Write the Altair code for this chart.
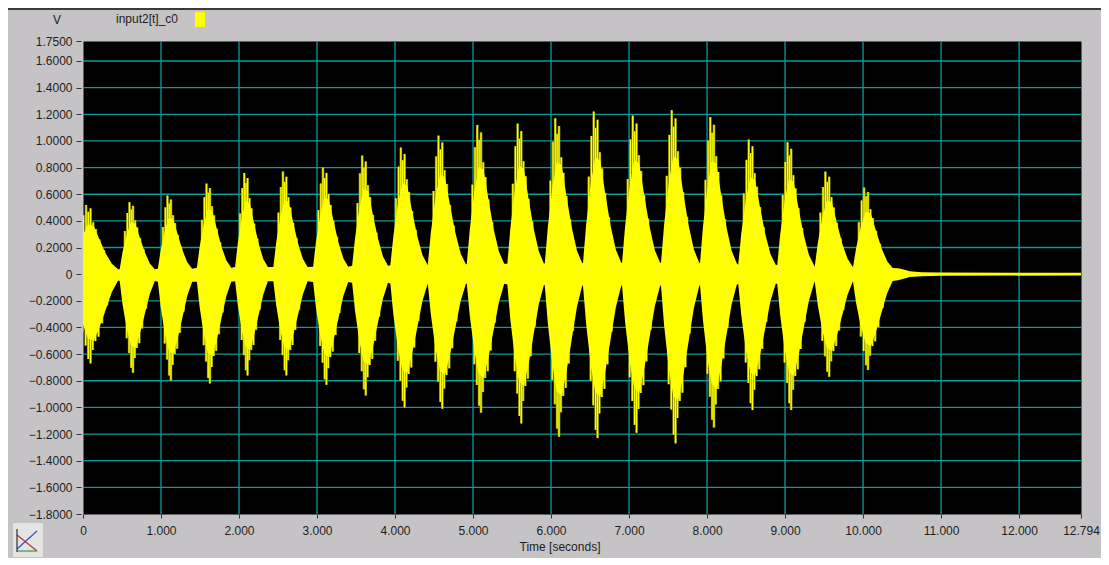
import altair as alt
import pandas as pd

# ---------------- data ----------------
x_ticks = [0, 1, 2, 3, 4, 5, 6, 7, 8, 9, 10, 11, 12, 12.794]
y_ticks = [1.75, 1.6, 1.4, 1.2, 1.0, 0.8, 0.6, 0.4, 0.2, 0, -0.2, -0.4, -0.6,
           -0.8, -1.0, -1.2, -1.4, -1.6, -1.8]
grid_x = [1, 2, 3, 4, 5, 6, 7, 8, 9, 10, 11, 12]
grid_y = [1.6, 1.4, 1.2, 1.0, 0.8, 0.6, 0.4, 0.2, 0, -0.2, -0.4, -0.6, -0.8,
          -1.0, -1.2, -1.4, -1.6]

# bursts (seconds) and their extreme spike values (V)
burst_start = [-0.12, 0.47, 0.96, 1.46, 1.95, 2.44, 2.95, 3.45, 3.94, 4.42, 4.92,
               5.44, 5.92, 6.41, 6.91, 7.41, 7.91, 8.40, 8.90, 9.38, 9.87]
burst_end = [0.45, 0.92, 1.40, 1.90, 2.37, 2.88, 3.40, 3.91, 4.42, 4.91, 5.40,
             5.91, 6.40, 6.90, 7.40, 7.90, 8.38, 8.88, 9.37, 9.87, 10.38]
spike_top = [0.52, 0.54, 0.59, 0.68, 0.76, 0.77, 0.80, 0.89, 0.95, 1.04, 1.12,
             1.13, 1.17, 1.22, 1.19, 1.23, 1.18, 1.01, 0.99, 0.77, 0.65]
spike_bot = [-0.67, -0.74, -0.80, -0.82, -0.76, -0.76, -0.83, -0.91, -1.00, -1.01,
             -1.04, -1.12, -1.22, -1.23, -1.19, -1.27, -1.15, -1.02, -1.02, -0.77, -0.72]

# typical shape of one burst (fraction of burst length,
# fraction of the burst's extreme value)
env_frac = [0.0, 0.08, 0.20, 0.32, 0.45, 0.58, 0.72, 0.86, 1.0]
env_top = [0.07, 0.30, 0.55, 0.72, 0.70, 0.50, 0.30, 0.15, 0.07]
env_bot = [0.07, 0.30, 0.55, 0.72, 0.75, 0.60, 0.40, 0.20, 0.07]
spk_top_frac = [0.15, 0.22, 0.28, 0.33, 0.38, 0.44, 0.50, 0.58, 0.68]
spk_top_rel = [0.60, 0.85, 1.00, 0.90, 0.95, 0.75, 0.65, 0.50, 0.35]
spk_bot_frac = [0.20, 0.27, 0.33, 0.38, 0.43, 0.49, 0.56, 0.64, 0.75]
spk_bot_rel = [0.65, 0.80, 0.95, 1.00, 0.85, 0.75, 0.70, 0.55, 0.35]

# decaying tail after the last burst
tail_t = [10.45, 10.52, 10.60, 10.75, 11.0, 12.794]
tail_amp = [0.045, 0.035, 0.022, 0.015, 0.012, 0.010]

# ---------------- tables ----------------
env_rows = []
spk_rows = []
for s, e, hi, lo in zip(burst_start, burst_end, spike_top, spike_bot):
    for f, a, b in zip(env_frac, env_top, env_bot):
        env_rows.append({"t": s + f * (e - s), "top": a * hi, "bot": b * lo})
    for f, r in zip(spk_top_frac, spk_top_rel):
        spk_rows.append({"t": s + f * (e - s), "v0": 0.0, "v1": r * hi})
    for f, r in zip(spk_bot_frac, spk_bot_rel):
        spk_rows.append({"t": s + f * (e - s), "v0": 0.0, "v1": r * lo})
for t, a in zip(tail_t, tail_amp):
    env_rows.append({"t": t, "top": a, "bot": -a})

env_df = pd.DataFrame(env_rows).sort_values("t")
spk_df = pd.DataFrame(spk_rows)
gx_df = pd.DataFrame({"gx": grid_x})
gy_df = pd.DataFrame({"gy": grid_y})
one = pd.DataFrame({"k": [0]})

# ---------------- scales / axes ----------------
FONT = "Liberation Sans"
INK = "#1e1e1e"
xs = alt.Scale(domain=[0, 12.794], nice=False, zero=False)
ys = alt.Scale(domain=[-1.8, 1.75], nice=False, zero=False)
x_axis = alt.Axis(values=x_ticks, title=None, grid=False, domain=False,
                  tickSize=4, tickColor="#333333", labelPadding=7,
                  labelFont=FONT, labelFontSize=12, labelColor=INK,
                  labelFlush=False, labelOverlap=False, labelBound=False,
                  labelExpr="datum.value == 0 ? '0' : format(datum.value, '.3f')")
y_axis = alt.Axis(values=y_ticks, title=None, grid=False, domain=False,
                  tickSize=5, tickColor="#333333", offset=2, labelPadding=4,
                  labelFont=FONT, labelFontSize=12, labelColor=INK,
                  labelFlush=False, labelOverlap=False,
                  labelExpr="datum.value == 0 ? '0' : format(datum.value, '.4f')")

TEAL = "#0a9c9c"
YEL = "#ffff00"
OLIVE = "#8f8f06"

grid_h = alt.Chart(gy_df).mark_rule(color=TEAL, strokeWidth=1.3).encode(
    y=alt.Y("gy:Q", scale=ys, axis=y_axis))
grid_v = alt.Chart(gx_df).mark_rule(color=TEAL, strokeWidth=1.3).encode(
    x=alt.X("gx:Q", scale=xs, axis=x_axis))

area = alt.Chart(env_df).mark_area(color=YEL, opacity=1, clip=True).encode(
    x=alt.X("t:Q", scale=xs, axis=x_axis),
    y=alt.Y("top:Q", scale=ys, axis=y_axis),
    y2="bot:Q")

spk_base = alt.Chart(spk_df).encode(
    x=alt.X("t:Q", scale=xs, axis=x_axis),
    y=alt.Y("v0:Q", scale=ys, axis=y_axis),
    y2="v1:Q")
spikes_dark = spk_base.mark_rule(color=OLIVE, strokeWidth=2.6, clip=True)
spikes = spk_base.mark_rule(color=YEL, strokeWidth=1.3, clip=True)

v_label = alt.Chart(one).mark_text(text="V", font=FONT, fontSize=12, color=INK,
                                   align="center", baseline="middle").encode(
    x=alt.value(-26), y=alt.value(-21))
leg_text = alt.Chart(one).mark_text(text="input2[t]_c0", font=FONT, fontSize=12,
                                    color=INK, align="left", baseline="middle").encode(
    x=alt.value(33), y=alt.value(-22))
leg_box = alt.Chart(one).mark_rect(color=YEL).encode(
    x=alt.value(112), x2=alt.value(122), y=alt.value(-29), y2=alt.value(-14))
x_title = alt.Chart(one).mark_text(text="Time [seconds]", font=FONT, fontSize=12,
                                   color=INK, align="center", baseline="middle").encode(
    x=alt.value(477), y=alt.value(506))
top_border = alt.Chart(one).mark_rule(color="#3a3a3a", strokeWidth=2).encode(
    x=alt.value(-75), x2=alt.value(1018), y=alt.value(-32))
icon_bg = alt.Chart(one).mark_rect(color="#e4e4e4").encode(
    x=alt.value(-70), x2=alt.value(-40), y=alt.value(482), y2=alt.value(516))
icon_l1 = alt.Chart(one).mark_rule(color="#3050c0", strokeWidth=1.2).encode(
    x=alt.value(-66), x2=alt.value(-46), y=alt.value(508), y2=alt.value(490))
icon_l2 = alt.Chart(one).mark_rule(color="#c03030", strokeWidth=1.2).encode(
    x=alt.value(-66), x2=alt.value(-46), y=alt.value(494), y2=alt.value(510))
icon_l3 = alt.Chart(one).mark_rule(color="#30a040", strokeWidth=1.2).encode(
    x=alt.value(-66), x2=alt.value(-46), y=alt.value(510), y2=alt.value(510))
icon_l4 = alt.Chart(one).mark_rule(color="#303030", strokeWidth=1.2).encode(
    x=alt.value(-66), x2=alt.value(-66), y=alt.value(488), y2=alt.value(511))

chart = alt.layer(
    grid_h, grid_v, spikes_dark, area, spikes,
    v_label, leg_text, leg_box, x_title, top_border,
    icon_bg, icon_l1, icon_l2, icon_l3, icon_l4,
).properties(
    width=998, height=473,
    autosize=alt.AutoSizeParams(type="none"),
    padding={"left": 75, "top": 33, "right": 20, "bottom": 44},
    background="#c6c3c6",
).configure_view(fill="black", stroke="transparent")

chart.save("out.html", embed_options={"renderer": "svg", "actions": False})
